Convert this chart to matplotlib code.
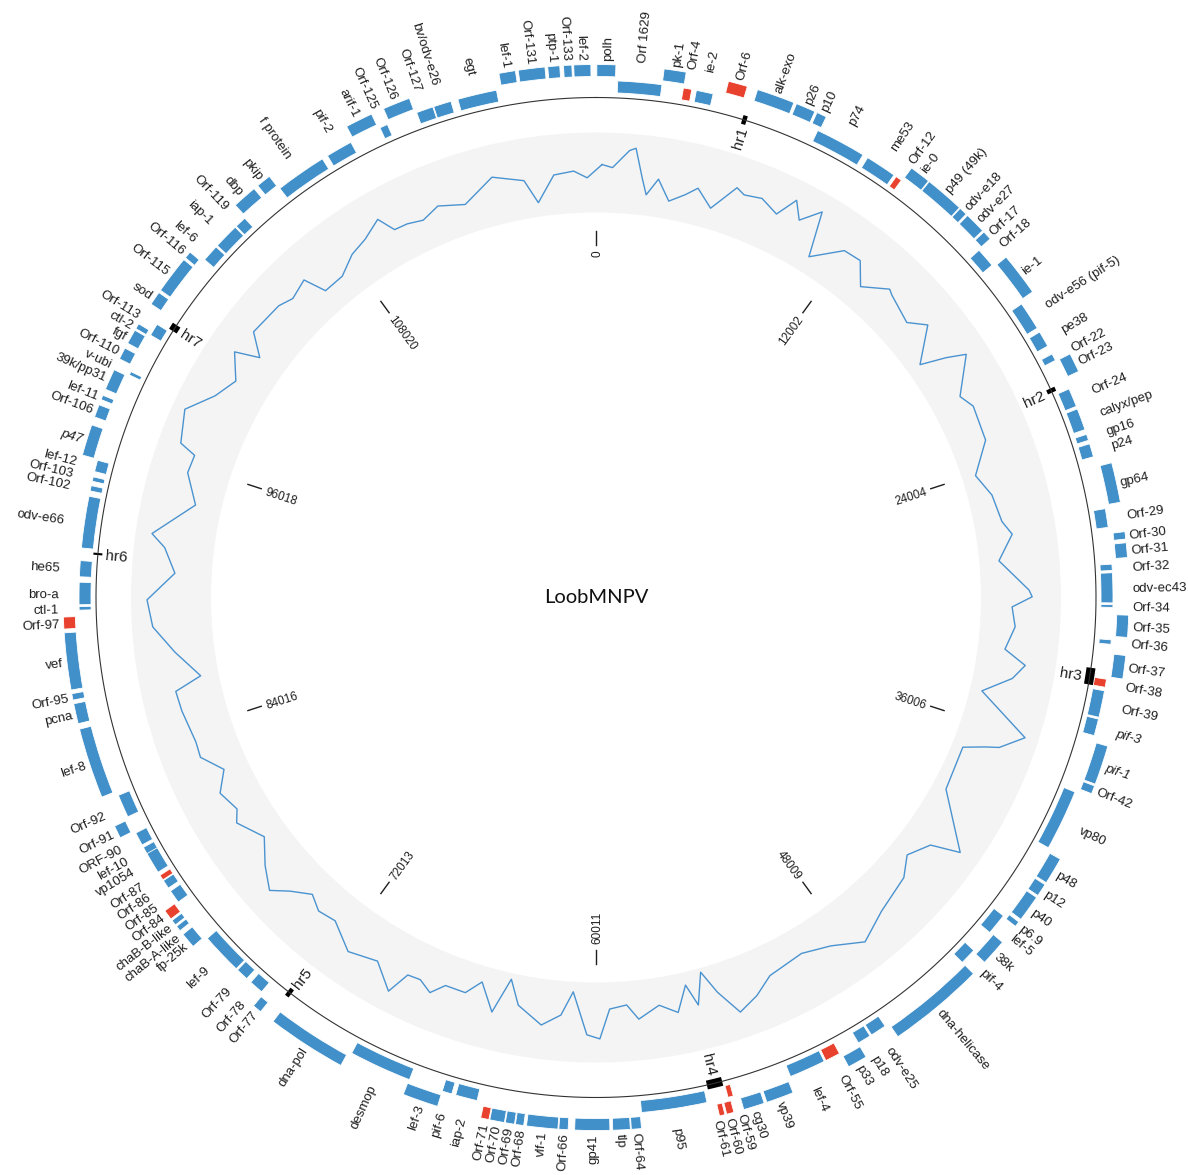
import numpy as np
import matplotlib
matplotlib.use("Agg")
import matplotlib.pyplot as plt

GENOME = 120022

# gene annotation (bp), track: 1 = outer ring, 0 = inner ring
genes = ["polh", "Orf 1629", "pk-1", "Orf-4", "ie-2", "Orf-6", "alk-exo", "p26", "p10", "p74",
         "me53", "Orf-12", "ie-0", "p49 (49k)", "odv-e18", "odv-e27", "Orf-17", "Orf-18", "ie-1",
         "odv-e56 (pif-5)", "pe38", "Orf-22", "Orf-23", "Orf-24", "calyx/pep", "gp16", "p24", "gp64",
         "Orf-29", "Orf-30", "Orf-31", "Orf-32", "odv-ec43", "Orf-34", "Orf-35", "Orf-36", "Orf-37",
         "Orf-38", "Orf-39", "pif-3", "pif-1", "Orf-42", "vp80", "p48", "p12", "p40", "p6.9", "lef-5",
         "38k", "pif-4", "dna-helicase", "odv-e25", "p18", "p33", "Orf-55", "lef-4", "vp39", "cg30",
         "Orf-59", "Orf-60", "Orf-61", "p95", "Orf-64", "tlp", "gp41", "Orf-66", "vlf-1", "Orf-68",
         "Orf-69", "Orf-70", "Orf-71", "iap-2", "pif-6", "lef-3", "desmop", "dna-pol", "Orf-77",
         "Orf-78", "Orf-79", "lef-9", "fp-25k", "chaB-A-like", "chaB-B-like", "Orf-84", "Orf-85",
         "Orf-86", "Orf-87", "vp1054", "lef-10", "ORF-90", "Orf-91", "Orf-92", "lef-8", "pcna",
         "Orf-95", "vef", "Orf-97", "ctl-1", "bro-a", "he65", "odv-e66", "Orf-102", "Orf-103",
         "lef-12", "p47", "Orf-106", "lef-11", "39k/pp31", "v-ubi", "Orf-110", "fgf", "ctl-2",
         "Orf-113", "sod", "Orf-115", "Orf-116", "lef-6", "iap-1", "Orf-119", "dbp", "pkip",
         "f protein", "pif-2", "arif-1", "Orf-125", "Orf-126", "Orf-127", "bv/odv-e26", "egt",
         "lef-1", "Orf-131", "ptp-1", "Orf-133", "lef-2"]
gene_start = [30, 803, 2450, 3247, 3734, 4801, 5884, 7368, 8168, 8468,
              10569, 11835, 12102, 12902, 14369, 14736, 15569, 15936, 16770,
              18470, 19704, 20637, 20937, 22071, 22871, 23871, 24238, 25121,
              26705, 27638, 28039, 28772, 29089, 30272, 30639, 31573, 32089,
              33039, 33473, 34540, 35406, 36907, 37374, 39807, 40874, 41424, 42508, 42674,
              43441, 44358, 44975, 48675, 49342, 49859, 50643, 51276, 52776, 53877,
              54876, 55010, 55343, 55877, 58377, 58777, 59511, 61011, 61378, 62611,
              62945, 63312, 63878, 64445, 65412, 65779, 67062, 69546, 73013,
              73447, 74180, 74713, 76381, 77114, 77381, 77648, 77981,
              78614, 78981, 79314, 80115, 80481, 81081, 81648, 82682, 85449,
              86316, 86682, 88883, 89549, 89749, 90782, 91850, 93984, 94350,
              94717, 95184, 96618, 97284, 97685, 98518, 98885, 99518, 100118,
              100185, 101152, 101752, 103219, 103619, 104319, 105319, 105819, 106886,
              107453, 109587, 110720, 111787, 112187, 113254, 113921, 114854,
              116521, 117221, 118288, 118855, 119221]
gene_end = [715, 2444, 3251, 3561, 4367, 5501, 7268, 8085, 8535, 10369,
            11735, 12069, 12869, 14336, 14669, 15503, 15903, 16670, 18337,
            19537, 20304, 20904, 21637, 22771, 23688, 24104, 24738, 26572,
            27405, 27905, 28572, 29005, 30205, 30372, 31439, 31739, 32939,
            33339, 34473, 35173, 36840, 37207, 39658, 40791, 41341, 42391, 42708, 43474,
            44408, 44975, 48509, 49275, 49842, 50576, 51209, 52643, 53777, 54643,
            55077, 55277, 55543, 58327, 58744, 59411, 60778, 61345, 62511, 62911,
            63278, 63845, 64178, 65262, 65779, 67079, 69413, 72447, 73346,
            73980, 74647, 76264, 76948, 77314, 77581, 78014, 78481,
            78948, 79181, 80381, 80381, 80981, 81548, 82515, 85249, 86182,
            86549, 88749, 89316, 89683, 90582, 91382, 93784, 94184, 94517,
            95151, 96318, 97085, 97451, 98452, 98652, 99318, 100052, 100318,
            100652, 101652, 103135, 103485, 104253, 105269, 105753, 106719, 107420,
            109370, 110587, 111720, 112087, 113187, 113888, 114588, 116321,
            117121, 118188, 118721, 119155, 119838]
gene_track = [1, 0, 1, 0, 0, 1, 1, 1, 1, 0,
              0, 0, 1, 1, 1, 1, 1, 0, 1,
              0, 0, 0, 1, 0, 0, 0, 0, 1,
              0, 1, 1, 0, 0, 0, 1, 0, 1,
              0, 0, 0, 1, 1, 0, 1, 1, 1, 1, 0,
              1, 0, 1, 0, 0, 1, 0, 0, 1, 1,
              0, 1, 1, 0, 1, 1, 1, 1, 1, 1,
              1, 1, 1, 0, 0, 1, 0, 1, 1,
              0, 0, 0, 1, 1, 1, 1, 0,
              0, 0, 0, 0, 0, 1, 0, 1, 1,
              1, 1, 1, 0, 0, 0, 0, 0, 0,
              0, 1, 1, 1, 1, 0, 1, 1, 1,
              0, 1, 1, 1, 0, 0, 0, 1, 1,
              0, 0, 1, 0, 1, 0, 0, 0,
              1, 1, 1, 1, 1]
unique_genes = ["Orf-4", "Orf-6", "Orf-12", "Orf-38", "Orf-55", "Orf-59", "Orf-60", "Orf-61",
                "Orf-71", "Orf-84", "Orf-87", "Orf-97"]
italic_labels = ["pif-3", "pif-1", "p47"]

# homologous repeat regions
hr_names = ["hr1", "hr2", "hr3", "hr4", "hr5", "hr6", "hr7"]
hr_start = [5670, 21770, 32700, 55140, 72530, 91640, 100750]
hr_end = [5840, 21940, 33340, 55740, 72700, 91720, 101020]

# GC content along genome (bp, %)
gc_pos = [267, 733, 1434, 1700, 2100, 2367, 2834, 3467, 4167, 4667, 5468, 6334, 6734,
          7535, 8401, 8935, 9435, 10135, 10669, 11869, 12702, 13469, 14536, 14803, 16170,
          16870, 18103, 18537, 18904, 20370, 21037, 22671, 24071, 25171, 26472, 27122, 28272,
          29672, 29972, 30439, 31339, 32406, 33006, 33673, 34540, 36040, 36807, 37007, 37407,
          39574, 41674, 42174, 43208, 44108, 45910, 47341, 48674, 50008, 51775, 52676, 53609,
          54309, 54809, 55310, 55676, 56276, 57077, 58077, 58577, 59377, 59844, 60411, 61111,
          61612, 62445, 63612, 64178, 64712, 65512, 66112, 67079, 67612, 68246, 68846, 69279,
          70346, 71680, 72980, 73847, 74580, 75413, 76047, 77014, 78081, 79315, 79848, 80848,
          81748, 82682, 83399, 84916, 85816, 86283, 87550, 88750, 89916, 91116, 92217, 92750,
          94351, 95684, 96518, 96818, 98219, 99318, 100352, 101419, 101853, 102619, 104219,
          104886, 105819, 106220, 107253, 108220, 109087, 110021, 110454, 111087, 111820,
          112687, 113888, 115388, 116754, 117254, 118121, 119021, 119621]
gc_val = [39.0, 38.3, 42.8, 43.5, 36.2, 32.2, 36.5, 31.5, 33.9, 36.2, 32.2, 39.1, 38.0,
          38.8, 36.7, 42.0, 37.9, 42.5, 31.2, 37.4, 37.8, 32.8, 37.2, 36.5, 34.5,
          38.1, 30.5, 36.9, 41.5, 34.7, 36.5, 35.8, 30.4, 33.0, 34.0, 36.0, 31.9,
          39.0, 39.8, 34.8, 35.8, 33.8, 39.4, 36.8, 30.0, 43.6, 38.3, 35.0, 29.8,
          30.5, 41.9, 34.8, 31.7, 34.8, 36.8, 40.0, 35.8, 33.5, 34.8, 38.1, 40.5,
          34.0, 28.0, 35.8, 30.2, 36.5, 33.9, 36.7, 32.9, 33.7, 41.1, 40.1, 29.5,
          35.5, 38.5, 34.5, 28.5, 37.6, 31.0, 34.8, 34.8, 37.9, 35.9, 36.2, 42.0,
          36.8, 38.8, 34.6, 35.4, 33.4, 36.8, 40.4, 37.2, 33.0, 36.8, 34.9, 36.7,
          33.2, 37.4, 37.1, 38.1, 38.4, 31.5, 36.9, 41.8, 43.0, 36.2, 39.3, 42.9,
          33.5, 37.5, 37.2, 41.5, 43.8, 38.5, 35.8, 40.0, 34.0, 39.1, 38.5,
          37.2, 38.6, 33.0, 33.1, 36.0, 37.3, 39.9, 35.6, 35.4, 34.5,
          36.3, 34.3, 39.0, 36.5, 30.5, 36.9, 37.5, 35.7]

tick_labels = ["0", "12002", "24004", "36006", "48009", "60011", "72013", "84016", "96018", "108020"]
center_title = "LoobMNPV"

# colours
BLUE = "#4190c9"
RED = "#e8412d"
LINE = "#4a93d0"
BAND = "#f4f4f4"
TXT = "#1e1e1e"

# radii (pixels)
R_CIRCLE = 500
R_INNER = (505, 12)
R_OUTER = (521, 12)
R_LABEL = 537
R_BAND = (385, 80)
R_TICK = (352, 366)
R_TICKLAB = 347
GC_LO, GC_HI = 27.0, 47.0

W, H = 1188, 1175
CX, CY = 596, H - 597.5
RMAX = 660


def to_theta(bp):
    return np.asarray(bp, dtype=float) / GENOME * 2 * np.pi


def spread(angles, min_sep, n_iter=500):
    a = np.asarray(angles, dtype=float)
    order = np.argsort(a)
    s = a[order].copy()
    for _ in range(n_iter):
        moved = False
        for i in range(len(s) - 1):
            d = s[i + 1] - s[i]
            if d < min_sep:
                push = (min_sep - d) / 2
                s[i] -= push
                s[i + 1] += push
                moved = True
        if not moved:
            break
    out = np.empty_like(a)
    out[order] = s
    return out


def radial_text(ax, deg, r, s, inside, **kw):
    # text laid along the radius, flipped on the left half so it stays readable
    th = np.deg2rad(deg)
    right = (deg % 360) < 180
    if right:
        rot = 90 - deg
        ha = "right" if inside else "left"
    else:
        rot = 270 - deg
        ha = "left" if inside else "right"
    ax.text(th, r, s, rotation=rot, rotation_mode="anchor", ha=ha, va="center_baseline",
            clip_on=False, **kw)


plt.rcParams["font.family"] = ["Liberation Sans", "DejaVu Sans"]
fig = plt.figure(figsize=(W / 100, H / 100), dpi=100)
ax = fig.add_axes([(CX - RMAX) / W, (CY - RMAX) / H, 2 * RMAX / W, 2 * RMAX / H], projection="polar")
ax.set_theta_zero_location("N")
ax.set_theta_direction(-1)
ax.set_ylim(0, RMAX)
ax.axis("off")

# grey band + GC line
ax.bar(0, R_BAND[1], width=2 * np.pi, bottom=R_BAND[0], color=BAND, edgecolor="none")
gth = to_theta(gc_pos)
gr = R_BAND[0] + (np.array(gc_val) - GC_LO) / (GC_HI - GC_LO) * R_BAND[1]
ax.plot(np.append(gth, gth[0] + 2 * np.pi), np.append(gr, gr[0]), color=LINE, lw=1.0)

# backbone circle
circ = np.linspace(0, 2 * np.pi, 1000)
ax.plot(circ, np.full_like(circ, R_CIRCLE), color="#333333", lw=0.8)

# genes
st = to_theta(gene_start)
en = to_theta(gene_end)
for name, a, b, trk in zip(genes, st, en, gene_track):
    r0, h = R_OUTER if trk else R_INNER
    col = RED if name in unique_genes else BLUE
    ax.bar((a + b) / 2, h, width=b - a, bottom=r0, color=col, edgecolor="white", linewidth=0.6)

# hr regions
hs = to_theta(hr_start)
he = to_theta(hr_end)
for name, a, b in zip(hr_names, hs, he):
    ax.bar((a + b) / 2, 9, width=b - a, bottom=R_CIRCLE - 4.5, color="black", edgecolor="none")
    radial_text(ax, np.rad2deg((a + b) / 2), R_CIRCLE - 8, name, inside=True, fontsize=11, color=TXT)

# gene labels
mids = np.rad2deg((st + en) / 2)
lab_deg = spread(mids, 1.32)
for name, d in zip(genes, lab_deg):
    style = "italic" if name in italic_labels else "normal"
    radial_text(ax, d, R_LABEL, name, inside=False, fontsize=9.5, color=TXT, fontstyle=style)

# inner scale
for i, lab in enumerate(tick_labels):
    th = 2 * np.pi * i / len(tick_labels)
    ax.plot([th, th], list(R_TICK), color=TXT, lw=1.0)
    radial_text(ax, np.rad2deg(th), R_TICKLAB, lab, inside=True, fontsize=8.5, color=TXT)

fig.text(CX / W, CY / H, center_title, ha="center", va="center", fontsize=14.5,
         family=["Lato", "DejaVu Sans"], color="#111111")

fig.savefig("out.png", dpi=100)
